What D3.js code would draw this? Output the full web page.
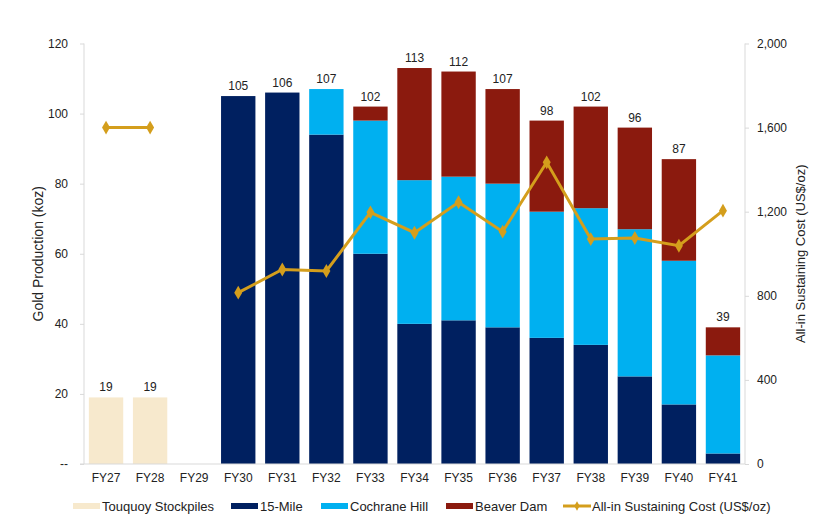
<!DOCTYPE html>
<html>
<head>
<meta charset="utf-8">
<script src="https://cdn.jsdelivr.net/npm/d3@7"></script>
<style>
  body { margin: 0; background: #fff; font-family: "Liberation Sans", Arial, sans-serif; }
  .axis text { font-size: 12px; fill: #222; font-family: "Liberation Sans", Arial, sans-serif; }
  .axis path, .axis line { stroke: #d9d9d9; }
</style>
</head>
<body>
<div id="chart"></div>
<script>
const years = ["FY27","FY28","FY29","FY30","FY31","FY32","FY33","FY34","FY35","FY36","FY37","FY38","FY39","FY40","FY41"];
const touquoy  = [19, 19, 0, 0, 0, 0, 0, 0, 0, 0, 0, 0, 0, 0, 0];
const fifteenMile = [0, 0, 0, 105, 106, 94, 60, 40, 41, 39, 36, 34, 25, 17, 3];
const cochrane = [0, 0, 0, 0, 0, 13, 38, 41, 41, 41, 36, 39, 42, 41, 28];
const beaver   = [0, 0, 0, 0, 0, 0, 4, 32, 30, 27, 26, 29, 29, 29, 8];
const totals   = [19, 19, null, 105, 106, 107, 102, 113, 112, 107, 98, 102, 96, 87, 39];
const aisc     = [1600, 1600, null, 815, 925, 918, 1197, 1100, 1245, 1105, 1435, 1070, 1075, 1038, 1205];
const leftTicks = [0, 20, 40, 60, 80, 100, 120];
const rightTicks = [0, 400, 800, 1200, 1600, 2000];

const seriesKeys = ["touquoy", "fifteen", "cochrane", "beaver"];
const seriesNames = ["Touquoy Stockpiles", "15-Mile", "Cochrane Hill", "Beaver Dam"];
const colors = ["#f7e9cd", "#002060", "#00b0f0", "#8b1a0e"];
const lineColor = "#d49e1c";

const width = 822, height = 532;
const margin = {top: 43.5, right: 77, bottom: 68, left: 84};
const innerW = width - margin.left - margin.right;
const innerH = height - margin.top - margin.bottom;

const svg = d3.select("#chart").append("svg")
  .attr("width", width)
  .attr("height", height);

const g = svg.append("g").attr("transform", `translate(${margin.left},${margin.top})`);

const x = d3.scaleBand().domain(years).range([0, innerW]).paddingInner(0.22).paddingOuter(0.11);
const y = d3.scaleLinear().domain([0, 120]).range([innerH, 0]);
const y2 = d3.scaleLinear().domain([0, 2000]).range([innerH, 0]);

// stacked bars
const rows = years.map((yr, i) => ({
  year: yr, touquoy: touquoy[i], fifteen: fifteenMile[i], cochrane: cochrane[i], beaver: beaver[i]
}));
const stacked = d3.stack().keys(seriesKeys)(rows);

g.append("g").selectAll("g")
  .data(stacked)
  .enter().append("g")
  .attr("fill", (d, i) => colors[i])
  .selectAll("rect")
  .data(d => d.filter(p => p[1] - p[0] > 0))
  .enter().append("rect")
  .attr("x", d => x(d.data.year))
  .attr("y", d => y(d[1]))
  .attr("width", x.bandwidth())
  .attr("height", d => y(d[0]) - y(d[1]));

// axes
const xAxis = g.append("g").attr("class", "axis")
  .attr("transform", `translate(0,${innerH})`)
  .call(d3.axisBottom(x).tickSize(0).tickPadding(9));
xAxis.select(".domain").attr("d", `M-4,0H${innerW}`);

g.append("g").attr("class", "axis")
  .call(d3.axisLeft(y).tickValues(leftTicks).tickSize(4).tickPadding(12)
    .tickFormat(d => d === 0 ? "--" : d))
  .select(".domain").attr("d", `M0,0V${innerH}`);

g.append("g").attr("class", "axis")
  .attr("transform", `translate(${innerW},0)`)
  .call(d3.axisRight(y2).tickValues(rightTicks).tickSize(4).tickPadding(8).tickFormat(d3.format(",")))
  .select(".domain").attr("d", `M0,0V${innerH}`);

// total labels
g.append("g").selectAll("text")
  .data(years.map((yr, i) => ({year: yr, v: totals[i]})).filter(d => d.v !== null))
  .enter().append("text")
  .attr("x", d => x(d.year) + x.bandwidth() / 2)
  .attr("y", d => y(d.v) - 6)
  .attr("text-anchor", "middle")
  .attr("font-size", 12)
  .attr("fill", "#222")
  .text(d => d.v);

// AISC line, broken at FY29
const pts = years.map((yr, i) => ({year: yr, v: aisc[i]}));
const line = d3.line()
  .defined(d => d.v !== null)
  .x(d => x(d.year) + x.bandwidth() / 2)
  .y(d => y2(d.v));
g.append("path")
  .datum(pts)
  .attr("fill", "none")
  .attr("stroke", lineColor)
  .attr("stroke-width", 3)
  .attr("d", line);

const diamond = d3.symbol().type(d3.symbolDiamond).size(55);
g.append("g").selectAll("path")
  .data(pts.filter(d => d.v !== null))
  .enter().append("path")
  .attr("d", diamond)
  .attr("fill", lineColor)
  .attr("transform", d => `translate(${x(d.year) + x.bandwidth() / 2},${y2(d.v)})`);

// axis titles
svg.append("text")
  .attr("transform", `translate(43,${margin.top + innerH / 2}) rotate(-90)`)
  .attr("text-anchor", "middle")
  .attr("font-size", 14)
  .attr("fill", "#222")
  .text("Gold Production (koz)");

svg.append("text")
  .attr("transform", `translate(805,${margin.top + innerH / 2}) rotate(-90)`)
  .attr("text-anchor", "middle")
  .attr("font-size", 13)
  .attr("fill", "#222")
  .text("All-in Sustaining Cost (US$/oz)");

// legend
const legendY = 506;
const legendItems = [
  {name: seriesNames[0], color: colors[0], x: 73},
  {name: seriesNames[1], color: colors[1], x: 231},
  {name: seriesNames[2], color: colors[2], x: 321},
  {name: seriesNames[3], color: colors[3], x: 446}
];
const legend = svg.append("g");
legendItems.forEach(d => {
  legend.append("rect").attr("x", d.x).attr("y", legendY - 3).attr("width", 27).attr("height", 6).attr("fill", d.color);
  legend.append("text").attr("x", d.x + 29).attr("y", legendY + 5).attr("font-size", 13).attr("fill", "#222").text(d.name);
});
legend.append("line").attr("x1", 563).attr("x2", 591).attr("y1", legendY).attr("y2", legendY)
  .attr("stroke", lineColor).attr("stroke-width", 3);
legend.append("path").attr("d", d3.symbol().type(d3.symbolDiamond).size(25))
  .attr("fill", lineColor).attr("transform", `translate(577,${legendY})`);
legend.append("text").attr("x", 592).attr("y", legendY + 5).attr("font-size", 13).attr("fill", "#222")
  .text("All-in Sustaining Cost (US$/oz)");
</script>
</body>
</html>
